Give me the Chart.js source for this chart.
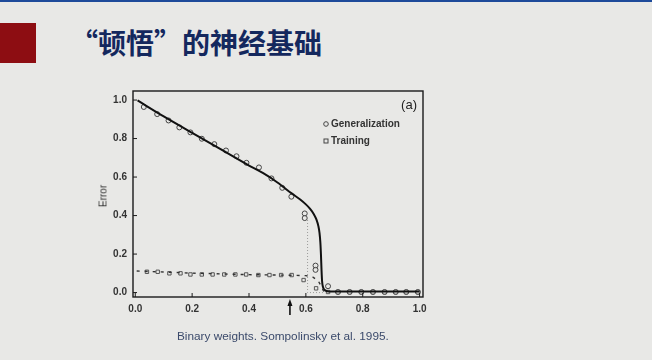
<!DOCTYPE html>
<html>
<head>
<meta charset="utf-8">
<script src="https://cdn.jsdelivr.net/npm/chart.js@4/dist/chart.umd.min.js"></script>
<style>
  html, body { margin:0; padding:0; }
  body { width:652px; height:360px; background:#e8e8e6; position:relative; overflow:hidden; font-family:"Liberation Sans", Arial, sans-serif; }
  #topline { position:absolute; left:0; top:0; width:652px; height:2px; background:#1d4a9a; }
  #redbox { position:absolute; left:0; top:23px; width:36px; height:40px; background:#8d0d12; }
  #title { position:absolute; left:70px; top:22px; font-family:"Noto Sans CJK SC", sans-serif; font-weight:bold; font-size:28px; color:#14285e; line-height:40px; white-space:nowrap; }
  #caption { position:absolute; left:177px; top:329px; font-size:11.8px; color:#3b4a6b; white-space:nowrap; font-family:"Liberation Sans", Arial, sans-serif; }
  #ytitle { position:absolute; left:103px; top:196px; transform:translate(-50%,-50%) rotate(-90deg); font-size:10px; color:#333; font-family:"Liberation Sans", Arial, sans-serif; }
  #wrap { position:absolute; left:0; top:0; width:652px; height:360px; }
</style>
</head>
<body>
<div id="topline"></div>
<div id="redbox"></div>
<div id="title">“顿悟”的神经基础</div>
<div id="wrap"><canvas id="c"></canvas></div>
<div id="ytitle">Error</div>
<div id="caption">Binary weights. Sompolinsky et al. 1995.</div>
<script>
// ---- data ----
const xTicks = [0.0, 0.2, 0.4, 0.6, 0.8, 1.0];
const yTicks = [0.0, 0.2, 0.4, 0.6, 0.8, 1.0];

const genX = [0.030,0.077,0.117,0.155,0.194,0.234,0.278,0.319,0.356,0.391,0.435,0.479,0.517,0.549,0.596,0.596,0.634,0.634,0.678,0.713,0.754,0.795,0.836,0.877,0.916,0.953,0.994];
const genY = [0.964,0.927,0.894,0.858,0.832,0.799,0.771,0.738,0.708,0.674,0.650,0.593,0.544,0.498,0.411,0.387,0.140,0.118,0.033,0.003,0.003,0.003,0.003,0.003,0.003,0.003,0.003];

const trainX = [0.041,0.079,0.120,0.159,0.194,0.234,0.272,0.313,0.352,0.390,0.433,0.472,0.513,0.550,0.592,0.636,0.678,0.713,0.754,0.795,0.836,0.877,0.916,0.953,0.994];
const trainY = [0.108,0.108,0.100,0.100,0.094,0.094,0.094,0.094,0.094,0.094,0.091,0.091,0.091,0.091,0.065,0.022,0.003,0.003,0.003,0.003,0.003,0.003,0.003,0.003,0.003];

const genTheoryX = [0.008,0.1,0.2,0.3,0.4,0.45,0.5,0.55,0.58,0.6,0.615,0.627,0.637,0.644,0.648,0.651,0.653,0.655,0.657,0.66,0.665,0.672,0.69,1.0];
const genTheoryY = [0.998,0.915,0.83,0.745,0.66,0.62,0.572,0.515,0.483,0.458,0.435,0.41,0.38,0.345,0.31,0.26,0.20,0.12,0.06,0.03,0.015,0.008,0.005,0.005];

const trainTheoryX = [0.005,0.2,0.4,0.55,0.6,0.625,0.643,0.655,0.665];
const trainTheoryY = [0.112,0.101,0.093,0.090,0.088,0.080,0.062,0.030,0.0];

const guideX = [0.606,0.606,0.66];
const guideY = [0.377,0.0,0.0];

const arrowX = 0.544;
const seriesNames = ["Generalization","Training"];
const panelLabel = "(a)";

const pts = (xs, ys) => xs.map((x,i)=>({x:x, y:ys[i]}));

const framePlugin = {
  id:'frame',
  afterDraw(chart){
    const {ctx, chartArea:a, scales} = chart;
    ctx.save();
    ctx.strokeStyle = '#1a1a1a';
    ctx.lineWidth = 1.4;
    ctx.strokeRect(a.left, a.top, a.right-a.left, a.bottom-a.top);
    ctx.lineWidth = 1;
    xTicks.forEach(v=>{
      const px = scales.x.getPixelForValue(v);
      ctx.beginPath(); ctx.moveTo(px, a.bottom); ctx.lineTo(px, a.bottom-4); ctx.stroke();
    });
    yTicks.forEach(v=>{
      const py = scales.y.getPixelForValue(v);
      ctx.beginPath(); ctx.moveTo(a.left, py); ctx.lineTo(a.left+4, py); ctx.stroke();
    });
    const ax = scales.x.getPixelForValue(arrowX);
    ctx.fillStyle = '#111'; ctx.strokeStyle = '#111'; ctx.lineWidth = 1.6;
    ctx.beginPath(); ctx.moveTo(ax, a.bottom+18); ctx.lineTo(ax, a.bottom+7); ctx.stroke();
    ctx.beginPath(); ctx.moveTo(ax, a.bottom+2); ctx.lineTo(ax-2.5, a.bottom+9); ctx.lineTo(ax+2.5, a.bottom+9); ctx.closePath(); ctx.fill();
    ctx.fillStyle = '#222';
    ctx.font = '13px "Liberation Sans", Arial, sans-serif';
    ctx.textAlign = 'right'; ctx.textBaseline = 'middle';
    ctx.fillText(panelLabel, a.right-6, a.top+14);
    ctx.font = 'bold 10px "Liberation Sans", Arial, sans-serif';
    ctx.textAlign = 'left';
    const lx = a.left + 193, ly1 = a.top + 33, ly2 = a.top + 50;
    ctx.lineWidth = 1; ctx.strokeStyle = '#444';
    ctx.beginPath(); ctx.arc(lx, ly1, 2.3, 0, Math.PI*2); ctx.stroke();
    ctx.strokeRect(lx-2, ly2-2, 4, 4);
    ctx.fillStyle = '#333';
    ctx.fillText(seriesNames[0], lx+5, ly1);
    ctx.fillText(seriesNames[1], lx+5, ly2);
    ctx.restore();
  }
};

const tickFont = {family:'"Liberation Sans", Arial, sans-serif', size:10, weight:'bold'};

new Chart(document.getElementById('c'), {
  type:'scatter',
  data:{
    datasets:[
      {label:'guide', data:pts(guideX,guideY), showLine:true, borderColor:'#999', borderWidth:1, borderDash:[1,2], pointRadius:0},
      {label:'train theory', data:pts(trainTheoryX,trainTheoryY), showLine:true, borderColor:'#333', borderWidth:1.4, borderDash:[3,5], pointRadius:0},
      {label:'gen theory', data:pts(genTheoryX,genTheoryY), showLine:true, borderColor:'#111', borderWidth:2, pointRadius:0, cubicInterpolationMode:'monotone'},
      {label:seriesNames[0], data:pts(genX,genY), pointStyle:'circle', pointRadius:2.5, pointBorderWidth:1, pointBorderColor:'#444', pointBackgroundColor:'rgba(232,232,230,0.6)'},
      {label:seriesNames[1], data:pts(trainX,trainY), pointStyle:'rect', pointRadius:2.4, pointBorderWidth:1, pointBorderColor:'#555', pointBackgroundColor:'rgba(232,232,230,0.6)'}
    ]
  },
  options:{
    animation:false, responsive:true, maintainAspectRatio:false,
    layout:{padding:{left:93, top:91, right:229, bottom:38}},
    plugins:{legend:{display:false}, tooltip:{enabled:false}},
    scales:{
      x:{type:'linear', min:-0.008, max:1.012,
         afterBuildTicks:s=>{ s.ticks = xTicks.map(v=>({value:v})); },
         afterFit:s=>{ s.height = 25; },
         ticks:{callback:v=>Number(v).toFixed(1), font:tickFont, color:'#333', padding:6, maxRotation:0, autoSkip:false},
         grid:{drawOnChartArea:false, drawTicks:false, display:false}, border:{display:false}},
      y:{type:'linear', min:-0.023, max:1.047,
         afterBuildTicks:s=>{ s.ticks = yTicks.map(v=>({value:v})); },
         afterFit:s=>{ s.width = 40; },
         ticks:{callback:v=>Number(v).toFixed(1), font:tickFont, color:'#333', padding:6, autoSkip:false},
         grid:{drawOnChartArea:false, drawTicks:false, display:false}, border:{display:false}}
    }
  },
  plugins:[framePlugin]
});
</script>
</body>
</html>
